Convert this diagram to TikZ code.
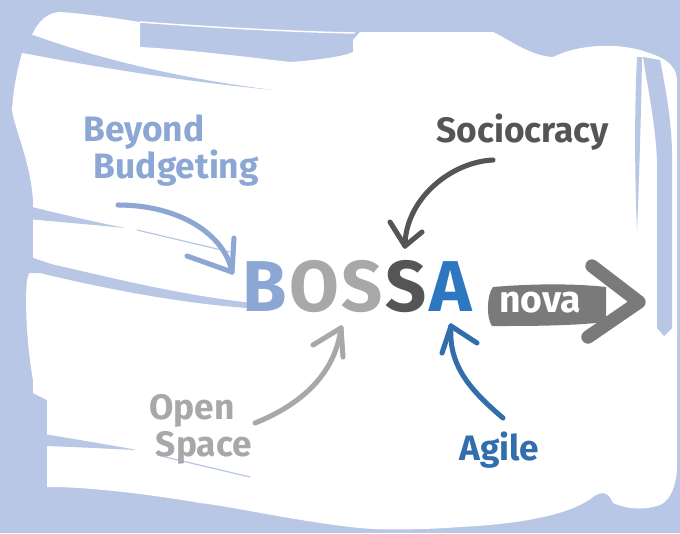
\documentclass[tikz,border=0pt]{standalone}
\usepackage{fontspec}
\setmainfont{Fira Sans}
\usetikzlibrary{positioning}

\definecolor{bgblue}{RGB}{184,199,230}
\definecolor{bbblue}{RGB}{140,167,212}
\definecolor{lgrey}{RGB}{168,168,168}
\definecolor{dgrey}{RGB}{85,85,85}
\definecolor{ablue}{RGB}{45,118,192}
\definecolor{agblue}{RGB}{50,110,172}
\definecolor{novagrey}{RGB}{122,122,122}

\tikzset{
  lbl/.style={inner sep=0pt, anchor=north west, align=left, font=\fontsize{26.5}{28}\selectfont\bfseries},
  letter/.style={inner sep=0pt, font=\fontsize{54}{54}\selectfont\bfseries},
  brush/.style={line width=3.8pt, line cap=round, line join=round},
  streak/.style={fill=bgblue},
}

\begin{document}
\begin{tikzpicture}[x=0.75pt,y=0.75pt,yscale=-1,xscale=1]
\useasboundingbox (0,0) rectangle (680,533);

%Shape: Rectangle [id:background]
\fill[bgblue] (0,0) rectangle (680,533);

%Shape: Blob [id:paper]
\fill[white] (33,33) .. controls (38,22) and (48,12) .. (60,12)
  .. controls (90,14) and (120,19) .. (140,22) -- (140,47)
  .. controls (180,49) and (240,56) .. (290,62)
  .. controls (320,60) and (345,56) .. (353,52) -- (353,40) -- (360,32) -- (493,32)
  .. controls (510,40) and (530,56) .. (553,57)
  .. controls (575,46) and (610,42) .. (640,50)
  .. controls (660,56) and (676,62) .. (677,80) -- (677,460)
  .. controls (678,480) and (672,500) .. (660,505)
  .. controls (645,510) and (630,510) .. (613,503)
  .. controls (608,490) and (600,492) .. (593,497)
  .. controls (570,515) and (520,524) .. (460,527)
  .. controls (420,530) and (380,530) .. (360,528)
  .. controls (300,522) and (230,506) .. (200,503)
  .. controls (160,496) and (100,488) .. (57,487) -- (47,487) -- (47,400) -- (33,393) -- (33,380)
  .. controls (26,340) and (25,300) .. (27,280)
  .. controls (30,270) and (33,265) .. (33,260) -- (33,200)
  .. controls (30,160) and (15,130) .. (12,110)
  .. controls (14,80) and (20,60) .. (23,50) -- cycle;
\draw[white, line width=1.1pt] (140,22) .. controls (220,28) and (300,32) .. (355,33);

%Shape: Streaks [id:brushmarks]
\fill[streak] (18,40) -- (33,35) .. controls (80,52) and (160,76) .. (273,90)
  .. controls (200,83) and (110,70) .. (18,52) -- cycle;
\fill[streak] (28,206) .. controls (60,214) and (100,223) .. (125,228)
  .. controls (95,225) and (60,222) .. (28,219) -- cycle;
\draw[bgblue, line width=0.9pt] (137,230) -- (230,252);
\fill[streak] (28,256) .. controls (45,262) and (53,265) .. (60,266)
  .. controls (120,280) and (190,297) .. (262,304) -- (262,309)
  .. controls (190,305) and (110,290) .. (40,273) -- (28,273) -- cycle;
\fill[streak] (44,434) .. controls (80,440) and (110,445) .. (137,450)
  .. controls (110,449) and (80,447) .. (44,446) -- cycle;
\draw[bgblue, line width=0.9pt] (157,455) -- (250,477);
\fill[streak] (643,57) -- (660,60) .. controls (668,100) and (672,130) .. (672,155) -- (672,328)
  -- (664,336) -- (657,328) -- (657,160) .. controls (655,120) and (648,90) .. (643,57) -- cycle;
\fill[streak] (637,57) .. controls (634,120) and (635,180) .. (637,232)
  .. controls (639,180) and (641,120) .. (642,57) -- cycle;

% Text Node
\node[lbl, text=bbblue] (bb) at (83,114) {Beyond\\\hspace*{8pt}Budgeting};
% Text Node
\node[lbl, text=dgrey] (soc) at (436,114) {Sociocracy};
% Text Node
\node[lbl, text=lgrey] (os) at (149,394) {Open\\\hspace*{5pt}Space};
% Text Node
\node[lbl, text=agblue] (ag) at (459,432) {Agile};

% Text Node
\node[letter, text=bbblue, anchor=base west] (b) at (242,311) {B};
\node[letter, text=lgrey, right=1.5pt of b.base east, anchor=base west] (o) {O};
\node[letter, text=lgrey, right=1.5pt of o.base east, anchor=base west] (s1) {S};
\node[letter, text=dgrey, right=1.5pt of s1.base east, anchor=base west] (s2) {S};
\node[letter, text=ablue, right=2pt of s2.base east, anchor=base west] (a) {A};

%Shape: Arrow [id:nova]
\fill[novagrey] (493,287) .. controls (540,283) and (580,284) .. (606,287) -- (606,322)
  .. controls (570,326) and (530,326) .. (492,326)
  .. controls (486,318) and (487,294) .. (493,287) -- cycle;
\draw[novagrey, line width=10pt, line cap=round, line join=round] (592,266) -- (639,302) -- (588,337);
% Text Node
\node[text=white, inner sep=0pt, font=\fontsize{28}{28}\selectfont\bfseries] (nova) at (540,303) {nova};

%Curve Lines [id:arrows]
\coordinate (bbstart) at (118,205);
\coordinate (bbtip) at (232,272);
\coordinate (socstart) at (493,160);
\coordinate (soctip) at (405,246);
\coordinate (osstart) at (255,423);
\coordinate (ostip) at (341,328);
\coordinate (agstart) at (503,418);
\coordinate (agtip) at (451,326);

\draw[brush, bbblue] (bbstart) .. controls (180,205) and (225,235) .. (bbtip);
\draw[brush, bbblue] (bbtip) -- (234,238);
\draw[brush, bbblue] (bbtip) -- (187,256);

\draw[brush, dgrey] (socstart) .. controls (450,162) and (405,200) .. (soctip);
\draw[brush, dgrey] (soctip) -- (390,222);
\draw[brush, dgrey] (soctip) -- (422,232);

\draw[brush, lgrey] (osstart) .. controls (300,405) and (335,375) .. (ostip);
\draw[brush, lgrey] (ostip) -- (313,345);
\draw[brush, lgrey] (ostip) -- (343,357);

\draw[brush, agblue] (agstart) .. controls (470,390) and (448,365) .. (agtip);
\draw[brush, agblue] (agtip) -- (442,353);
\draw[brush, agblue] (agtip) -- (477,343);

\end{tikzpicture}
\end{document}
